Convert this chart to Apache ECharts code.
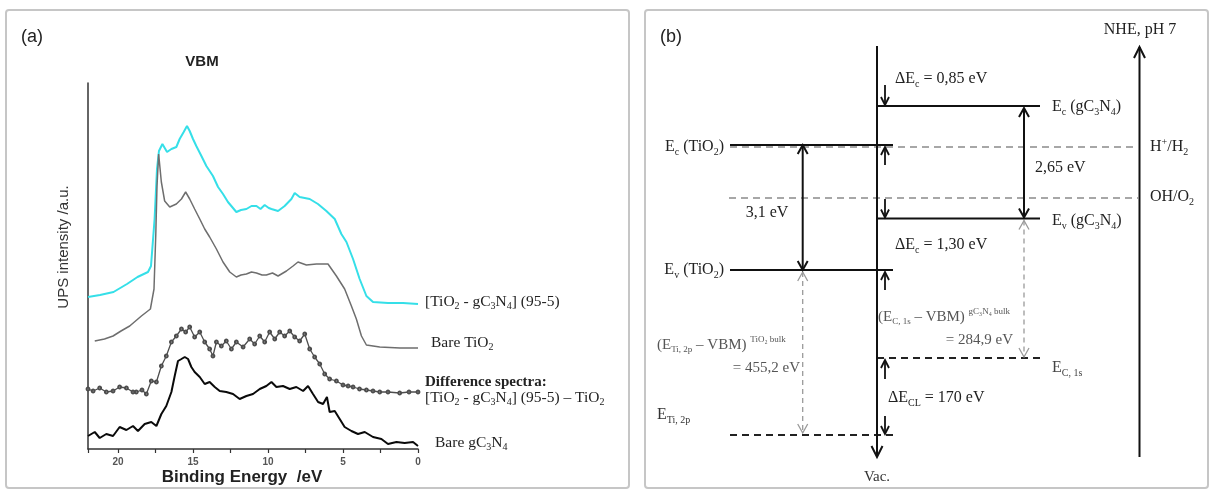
<!DOCTYPE html>
<html><head><meta charset="utf-8">
<script src="https://cdn.jsdelivr.net/npm/echarts@6/dist/echarts.min.js"></script>
<style>html,body{margin:0;padding:0;background:#fff}#c{width:1212px;height:490px}</style>
</head><body><div id="c"></div>
<script>
// ---------------- Panel (a): UPS valence band spectra [binding energy eV, intensity a.u. (offset)] ----------------
const compositeUPS = [[22.0,152],[21.2,154],[20.3,157],[19.4,165],[18.7,172],[18.0,177],[17.8,183],[17.56,230],[17.4,280],[17.27,298],[17.04,305],[16.73,297],[16.44,300],[16.11,302],[15.89,310],[15.62,317],[15.4,323],[15.22,318],[15.0,310],[14.78,303],[14.44,293],[14.11,283],[13.67,273],[13.33,262],[13.0,255],[12.67,247],[12.11,237],[11.8,239],[11.44,240],[11.1,243],[10.77,243],[10.5,240],[10.22,244],[9.95,241],[9.77,240],[9.33,238],[8.89,243],[8.44,250],[8.22,256],[7.89,252],[7.22,250],[6.67,245],[6.11,238],[5.55,230],[5.11,215],[4.77,207],[4.33,190],[3.89,170],[3.44,153],[3.0,147],[2.0,146],[1.0,146],[0.0,145]];
const bareTiO2 = [[21.55,108],[20.9,110],[20.33,113],[19.8,118],[19.22,123],[18.44,133],[17.84,140],[17.6,160],[17.48,215],[17.4,263],[17.29,295],[17.11,267],[16.89,248],[16.55,242],[16.11,245],[15.77,250],[15.49,257],[15.22,250],[14.89,240],[14.55,230],[14.22,220],[13.89,212],[13.44,200],[13.0,187],[12.55,177],[12.11,172],[11.8,174],[11.44,175],[11.1,177],[10.77,176],[10.4,174],[10.11,174],[9.7,176],[9.33,173],[8.77,178],[8.33,183],[8.0,187],[7.44,184],[6.77,185],[6.0,185],[5.44,173],[4.89,160],[4.44,143],[4.11,130],[3.77,113],[3.44,104],[2.55,102],[1.2,101],[0,101]];
const diffSpectrum = [[22,60],[21.66,58],[21.22,61],[20.78,57],[20.33,58],[19.89,62],[19.44,61],[19.0,57],[18.78,57],[18.4,59],[18.11,55],[17.78,68],[17.44,67],[17.11,83],[16.78,93],[16.44,107],[16.11,113],[15.77,120],[15.49,117],[15.22,122],[14.89,112],[14.55,117],[14.22,107],[13.89,100],[13.67,93],[13.44,107],[13.11,103],[12.78,108],[12.44,100],[12.11,107],[11.66,102],[11.22,110],[10.89,105],[10.55,113],[10.22,107],[9.89,117],[9.55,110],[9.22,117],[8.89,113],[8.55,118],[8.22,112],[7.89,108],[7.55,115],[7.22,100],[6.89,92],[6.55,85],[6.22,75],[5.89,70],[5.44,68],[5.0,64],[4.66,63],[4.33,62],[3.9,60],[3.44,59],[3.0,58],[2.55,57],[2.0,57],[1.22,56],[0.6,57],[0,57]];
const bareGC3N4 = [[22,13],[21.55,17],[21.22,11],[20.78,15],[20.33,13],[19.89,22],[19.44,19],[19.0,23],[18.67,18],[18.22,25],[17.78,27],[17.44,23],[17.11,35],[16.78,43],[16.44,57],[16.22,73],[16.0,88],[15.77,90],[15.55,92],[15.33,90],[15.11,82],[14.89,77],[14.55,72],[14.22,65],[13.89,67],[13.55,62],[13.22,58],[12.78,57],[12.33,55],[11.89,50],[11.44,53],[11.0,55],[10.55,60],[10.11,63],[9.77,67],[9.44,62],[9.0,63],[8.55,60],[8.11,62],[7.66,58],[7.33,63],[7.0,55],[6.66,47],[6.33,45],[6.07,52],[5.89,37],[5.55,38],[5.22,30],[4.89,22],[4.44,18],[4.0,15],[3.55,17],[3.0,12],[2.44,10],[2.0,5],[1.44,7],[0.89,6],[0.33,7],[0,3]];
const xTickLabels = [0, 5, 10, 15, 20];
const labelCyan = '[TiO_{2} - gC_{3}N_{4}] (95-5)';
const labelTiO2 = 'Bare TiO_{2}';
const labelDiff1 = 'Difference spectra:';
const labelDiff2 = '[TiO_{2} - gC_{3}N_{4}] (95-5) – TiO_{2}';
const labelGC = 'Bare gC_{3}N_{4}';

// ---------------- Panel (b): band diagram, level positions in diagram units (top = 0) ----------------
const levels = { EcG:106, EcT:145, HH2:147, OHO2:198, EvG:218.5, EvT:270, EC1s:358, ETi2p:435 };
const cols = { T:[730,893], G:[877,1040], redox:[729,1138] };
const vacAxis = [877, 46, 457];
const nheAxis = [1139.5, 457, 47];
const gapTiO2 = 802.7, gapG = 1024, offX = 885;

// ---------------- helpers ----------------
const SERIF = "'Liberation Serif','Times New Roman',serif";
const SANS = "'Liberation Sans',Arial,sans-serif";
function richify(s){
  let out=''; let i=0;
  const isMark = k => (s[k]==='_'||s[k]==='^') && s[k+1]==='{';
  while(i<s.length){
    if(isMark(i)){
      const end = s.indexOf('}', i);
      out += '{'+(s[i]==='_'?'sb':'sp')+'|'+s.slice(i+2,end)+'}';
      i = end+1;
    } else {
      let j=i; while(j<s.length && !isMark(j)) j++;
      out += '{n|'+s.slice(i,j)+'}'; i=j;
    }
  }
  return out;
}
function richStyles(fs, color, family, weight){
  const ss = Math.round(fs*0.62);
  const base = {fontFamily:family, fill:color, fontWeight:weight||'normal'};
  return {
    n: Object.assign({fontSize:fs, lineHeight:fs+4}, base),
    sb: Object.assign({fontSize:ss, lineHeight:ss, verticalAlign:'bottom'}, base),
    sp: Object.assign({fontSize:ss, lineHeight:ss, verticalAlign:'top'}, base)
  };
}

// text labels: [text, x, y, align, fontSize, color, weight]
const labelsB = [
  ['NHE, pH 7', 1140, 30, 'center', 16, '#222'],
  ['ΔE_{c} = 0,85 eV', 895, 79, 'left', 16, '#222'],
  ['E_{c} (gC_{3}N_{4})', 1052, 107, 'left', 16, '#222'],
  ['E_{c} (TiO_{2})', 724, 147, 'right', 16, '#222'],
  ['H^{+}/H_{2}', 1150, 147, 'left', 16, '#222'],
  ['2,65 eV', 1035, 168, 'left', 16, '#222'],
  ['OH/O_{2}', 1150, 197, 'left', 16, '#222'],
  ['3,1 eV', 767, 213, 'center', 16, '#222'],
  ['E_{v} (gC_{3}N_{4})', 1052, 221, 'left', 16, '#222'],
  ['ΔE_{c} = 1,30 eV', 895, 245, 'left', 16, '#222'],
  ['E_{v} (TiO_{2})', 724, 270, 'right', 16, '#222'],
  ['(E_{C, 1s} – VBM) ^{gC₃N₄ bulk}', 878, 317, 'left', 15, '#555'],
  ['= 284,9 eV', 1013, 340, 'right', 15, '#555'],
  ['(E_{Ti, 2p} – VBM) ^{TiO₂ bulk}', 657, 345, 'left', 15, '#555'],
  ['= 455,2 eV', 800, 368, 'right', 15, '#555'],
  ['E_{C, 1s}', 1052, 368, 'left', 16, '#444'],
  ['ΔE_{CL} = 170 eV', 888, 398, 'left', 16, '#222'],
  ['E_{Ti, 2p}', 657, 415, 'left', 16, '#333'],
  ['Vac.', 877, 477, 'center', 15, '#333']
];
const lastOf = a => a[a.length-1];
// panel (a) end labels: [text, dx, dy, fontSize, color, weight]
const labelsA = [
  [labelCyan, 7, -2, 15.5, '#222'],
  [labelTiO2, 13, -5, 15.5, '#222'],
  [labelDiff1, 7, -10, 15, '#222', 'bold'],
  [labelDiff2, 7, 6, 15.5, '#222'],
  [labelGC, 17, -3, 15.5, '#222']
];
const labelAnchorsA = [lastOf(compositeUPS), lastOf(bareTiO2), lastOf(diffSpectrum), lastOf(diffSpectrum), lastOf(bareGC3N4)]
  .map((p,i)=>[p[0], p[1], i]);

// segments: [x1,y1,x2,y2,headStart,headEnd]
const L = levels;
const segSolid = [
  [cols.G[0],L.EcG,cols.G[1],L.EcG,0,0],
  [cols.T[0],L.EcT,cols.T[1],L.EcT,0,0],
  [cols.G[0],L.EvG,cols.G[1],L.EvG,0,0],
  [cols.T[0],L.EvT,cols.T[1],L.EvT,0,0]
];
const segRedox = [
  [cols.redox[0]+1,L.HH2,cols.redox[1],L.HH2,0,0],
  [cols.redox[0],L.OHO2,cols.redox[1],L.OHO2,0,0]
];
const segCore = [
  [cols.G[0],L.EC1s,cols.G[1],L.EC1s,0,0],
  [cols.T[0],L.ETi2p,cols.T[1],L.ETi2p,0,0]
];
const segAxes = [
  [vacAxis[0],vacAxis[1],vacAxis[0],vacAxis[2],0,1],
  [nheAxis[0],nheAxis[1],nheAxis[0],nheAxis[2],0,1]
];
const segGaps = [
  [gapTiO2,L.EcT,gapTiO2,L.EvT,1,1],
  [gapG,L.EcG+2,gapG,L.EvG-1,1,1]
];
const segOffsets = [
  [offX,L.EcG-21,offX,L.EcG-1,0,1],
  [offX,L.EcT+20,offX,L.EcT+2,0,1],
  [offX,L.OHO2+1,offX,L.EvG-1,0,1],
  [offX,L.EvT+20,offX,L.EvT+2,0,1],
  [offX,L.EC1s+21,offX,L.EC1s+2,0,1],
  [offX,L.ETi2p-19,offX,L.ETi2p-1,0,1]
];
const segBulk = [
  [gapTiO2,L.EvT+2,gapTiO2,L.ETi2p-2,1,1],
  [gapG,L.EvG+2,gapG,L.EC1s-1,1,1]
];
const segStyle = {
  solid:{color:'#111', width:2.2, hl:0, hw:0},
  redox:{color:'#8a8a8a', width:1.6, dash:[7,5], hl:0, hw:0},
  core:{color:'#222', width:2, dash:[7,5], hl:0, hw:0},
  axes:{color:'#111', width:2, hl:11, hw:5.5},
  gaps:{color:'#111', width:2, hl:9, hw:5},
  offsets:{color:'#111', width:1.8, hl:8, hw:4},
  bulk:{color:'#9a9a9a', width:1.3, dash:[5,4], hl:9, hw:5}
};

function renderSeg(params, api){
  const st = segStyle[params.seriesName];
  const a = api.coord([api.value(0), api.value(1)]);
  const b = api.coord([api.value(2), api.value(3)]);
  const kids = [{type:'line', shape:{x1:a[0],y1:a[1],x2:b[0],y2:b[1]},
    style:{stroke:st.color, lineWidth:st.width, lineDash: st.dash || null}}];
  const head = (tip, from) => {
    const dx=tip[0]-from[0], dy=tip[1]-from[1]; const d=Math.hypot(dx,dy)||1;
    const ux=dx/d, uy=dy/d;
    return {type:'polyline', shape:{points:[
      [tip[0]-ux*st.hl - uy*st.hw, tip[1]-uy*st.hl + ux*st.hw],
      [tip[0], tip[1]],
      [tip[0]-ux*st.hl + uy*st.hw, tip[1]-uy*st.hl - ux*st.hw]]},
      style:{stroke:st.color, lineWidth:st.width, fill:null}};
  };
  if (api.value(4)) kids.push(head(a,b));
  if (api.value(5)) kids.push(head(b,a));
  return {type:'group', children:kids};
}
function segSeries(name, data){
  return {name, type:'custom', coordinateSystem:'cartesian2d', xAxisIndex:1, yAxisIndex:1,
    dimensions:['x1','y1','x2','y2','hs','he'], encode:{x:['x1','x2'], y:['y1','y2']},
    renderItem:renderSeg, data, silent:true, clip:false, z:3};
}
function textEl(p, t, dx, dy, align, fs, color, weight, family){
  return {type:'text', x:p[0]+dx, y:p[1]+dy,
    style:{text:richify(t), rich:richStyles(fs,color,family,weight), align:align, verticalAlign:'middle',
      fontSize:fs, fontFamily:family, fill:color}};
}

const chart = echarts.init(document.getElementById('c'), null, {renderer:'canvas'});
chart.setOption({
  animation:false,
  backgroundColor:'#fff',
  grid:[
    {left:88, top:83, width:330, height:366},
    {left:645, top:0, width:567, height:490}
  ],
  xAxis:[
    {type:'value', gridIndex:0, min:0, max:22, interval:2.5, inverse:true,
     axisLine:{show:true, onZero:false, lineStyle:{color:'#333', width:1.5}},
     axisTick:{show:true, length:4, lineStyle:{color:'#333', width:1.2}},
     splitLine:{show:false},
     axisLabel:{margin:8, fontSize:10, fontWeight:'bold', color:'#555', fontFamily:SANS,
       formatter: v => xTickLabels.indexOf(v) >= 0 ? String(v) : ''}},
    {type:'value', gridIndex:1, min:645, max:1212, show:false}
  ],
  yAxis:[
    {type:'value', gridIndex:0, min:0, max:366,
     axisLine:{show:true, onZero:false, lineStyle:{color:'#333', width:1.5}},
     axisTick:{show:false}, axisLabel:{show:false}, splitLine:{show:false}},
    {type:'value', gridIndex:1, min:0, max:490, inverse:true, show:false}
  ],
  graphic:[
    {type:'rect', shape:{x:6, y:10, width:623, height:478, r:3}, style:{fill:null, stroke:'#c6c6c6', lineWidth:2}, z:0},
    {type:'rect', shape:{x:645, y:10, width:563, height:478, r:3}, style:{fill:null, stroke:'#c6c6c6', lineWidth:2}, z:0},
    {type:'text', x:21, y:37, style:{text:'(a)', fontSize:18, fontFamily:SANS, fill:'#222', align:'left', verticalAlign:'middle'}},
    {type:'text', x:660, y:37, style:{text:'(b)', fontSize:18, fontFamily:SANS, fill:'#222', align:'left', verticalAlign:'middle'}},
    {type:'text', x:202, y:62, style:{text:'VBM', fontSize:15, fontWeight:'bold', fontFamily:SANS, fill:'#222', align:'center', verticalAlign:'middle'}},
    {type:'text', x:64, y:247, rotation:Math.PI/2, style:{text:'UPS intensity /a.u.', fontSize:15, fontFamily:SANS, fill:'#333', align:'center', verticalAlign:'middle'}},
    {type:'text', x:242, y:477, style:{text:'Binding Energy  /eV', fontSize:17, fontWeight:'bold', fontFamily:SANS, fill:'#222', align:'center', verticalAlign:'middle'}}
  ],
  series:[
    {name:'[TiO2 - gC3N4] (95-5)', type:'line', xAxisIndex:0, yAxisIndex:0, data:compositeUPS, showSymbol:false,
     lineStyle:{color:'#35dfe8', width:2}, silent:true, z:2},
    {name:'Bare TiO2', type:'line', xAxisIndex:0, yAxisIndex:0, data:bareTiO2, showSymbol:false,
     lineStyle:{color:'#6e6e6e', width:1.5}, silent:true, z:2},
    {name:'Difference spectra', type:'line', xAxisIndex:0, yAxisIndex:0, data:diffSpectrum, showSymbol:true,
     symbol:'emptyCircle', symbolSize:2.8, itemStyle:{color:'#4d4d4d', borderColor:'#4d4d4d', borderWidth:1},
     lineStyle:{color:'#4d4d4d', width:1.3}, silent:true, z:2},
    {name:'Bare gC3N4', type:'line', xAxisIndex:0, yAxisIndex:0, data:bareGC3N4, showSymbol:false,
     lineStyle:{color:'#0a0a0a', width:2}, silent:true, z:2},
    {name:'labelsA', type:'custom', coordinateSystem:'cartesian2d', xAxisIndex:0, yAxisIndex:0, clip:false, silent:true, z:5,
     data:labelAnchorsA,
     renderItem:(params, api)=>{
       const l = labelsA[api.value(2)];
       const p = api.coord([api.value(0), api.value(1)]);
       return textEl(p, l[0], l[1], l[2], 'left', l[3], l[4], l[5]||'normal', SERIF);
     }},
    segSeries('redox', segRedox),
    segSeries('core', segCore),
    segSeries('bulk', segBulk),
    segSeries('solid', segSolid),
    segSeries('axes', segAxes),
    segSeries('gaps', segGaps),
    segSeries('offsets', segOffsets),
    {name:'labelsB', type:'custom', coordinateSystem:'cartesian2d', xAxisIndex:1, yAxisIndex:1, clip:false, silent:true, z:5,
     data:labelsB.map((l,i)=>[l[1], l[2], i]),
     renderItem:(params, api)=>{
       const l = labelsB[api.value(2)];
       const p = api.coord([api.value(0), api.value(1)]);
       return textEl(p, l[0], 0, 0, l[3], l[4], l[5], l[6]||'normal', SERIF);
     }}
  ]
});
</script></body></html>
